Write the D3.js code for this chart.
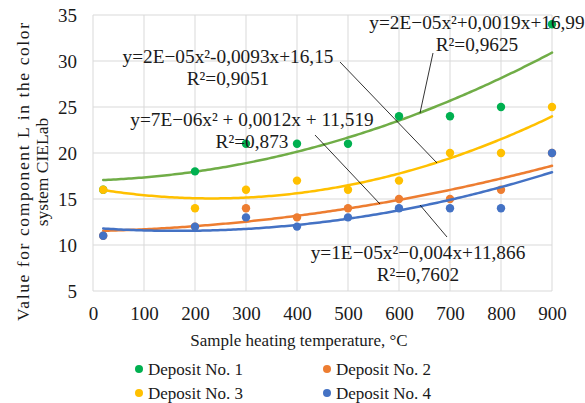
<!DOCTYPE html>
<html><head><meta charset="utf-8">
<script src="https://cdn.jsdelivr.net/npm/d3@7/dist/d3.min.js"></script>
</head>
<body style="margin:0;background:#fff"><svg id="c" width="585" height="403" style="display:block"></svg>
<script>
const temperatures = [20, 200, 300, 400, 500, 600, 700, 800, 900];
const seriesNames = ["Deposit No. 1", "Deposit No. 2", "Deposit No. 3", "Deposit No. 4"];
const deposit1 = [16, 18, 21, 21, 21, 24, 24, 25, 34];
const deposit2 = [11, 12, 14, 13, 14, 15, 15, 16, 20];
const deposit3 = [16, 14, 16, 17, 16, 17, 20, 20, 25];
const deposit4 = [11, 12, 13, 12, 13, 14, 14, 14, 20];
const xTicks = [0, 100, 200, 300, 400, 500, 600, 700, 800, 900];
const yTicks = [5, 10, 15, 20, 25, 30, 35];
const markerColors = ["#00b050", "#ed7d31", "#ffc000", "#4472c4"];
const lineColors = ["#70ad47", "#ed7d31", "#ffc000", "#4472c4"];
const eqLabels = [
  ["y=2E\u221205x\u00b2+0,0019x+16,99", "R\u00b2=0,9625"],
  ["y=2E\u221205x\u00b2-0,0093x+16,15", "R\u00b2=0,9051"],
  ["y=7E\u221206x\u00b2 + 0,0012x  + 11,519", "R\u00b2=0,873"],
  ["y=1E\u221205x\u00b2\u22120,004x+11,866", "R\u00b2=0,7602"]
];

const FONT = "Liberation Serif";
const svg = d3.select("#c");
const x = d3.scaleLinear().domain([0, 900]).range([93, 552]);
const y = d3.scaleLinear().domain([5, 35]).range([291, 15]);
const grid = "#d9d9d9", txt = "#1a1a1a";

svg.append("g").selectAll("line").data(yTicks).join("line")
  .attr("x1", x(0)).attr("x2", x(900)).attr("y1", d => y(d)).attr("y2", d => y(d))
  .attr("stroke", grid).attr("stroke-width", 1);
svg.append("g").selectAll("line").data(xTicks).join("line")
  .attr("y1", y(5)).attr("y2", y(35)).attr("x1", d => x(d)).attr("x2", d => x(d))
  .attr("stroke", grid).attr("stroke-width", 1);

const ax = svg.append("g").attr("transform", `translate(0,${y(5)})`)
  .call(d3.axisBottom(x).tickValues(xTicks).tickSize(0).tickPadding(16));
const ay = svg.append("g").attr("transform", `translate(${x(0)},0)`)
  .call(d3.axisLeft(y).tickValues(yTicks).tickSize(0).tickPadding(16));
[ax, ay].forEach(g => {
  g.select(".domain").remove();
  g.selectAll("text").style("font-family", FONT).style("font-size", "19px").attr("fill", txt);
});

function fit(xs, ys) {
  const u = xs.map(v => v / 100);
  let S = [0,0,0,0,0], T = [0,0,0];
  u.forEach((ui, i) => {
    for (let k = 0; k < 5; k++) S[k] += Math.pow(ui, k);
    for (let k = 0; k < 3; k++) T[k] += Math.pow(ui, k) * ys[i];
  });
  const A = [[S[0],S[1],S[2],T[0]],[S[1],S[2],S[3],T[1]],[S[2],S[3],S[4],T[2]]];
  for (let i = 0; i < 3; i++) {
    for (let j = i + 1; j < 3; j++) {
      const f = A[j][i] / A[i][i];
      for (let k = i; k < 4; k++) A[j][k] -= f * A[i][k];
    }
  }
  const c = [0,0,0];
  for (let i = 2; i >= 0; i--) {
    let s = A[i][3];
    for (let k = i + 1; k < 3; k++) s -= A[i][k] * c[k];
    c[i] = s / A[i][i];
  }
  return t => c[0] + c[1] * (t / 100) + c[2] * (t / 100) * (t / 100);
}

const allSeries = [deposit1, deposit2, deposit3, deposit4];
const line = d3.line().x(d => x(d[0])).y(d => y(d[1]));
allSeries.forEach((vals, si) => {
  const f = fit(temperatures, vals);
  const pts = d3.range(20, 900.01, 5).map(t => [t, f(t)]);
  svg.append("path").datum(pts).attr("d", line).attr("fill", "none")
    .attr("stroke", lineColors[si]).attr("stroke-width", 2.5).attr("stroke-linecap", "round");
  svg.append("g").selectAll("circle").data(vals).join("circle")
    .attr("cx", (d, i) => x(temperatures[i])).attr("cy", d => y(d)).attr("r", 4.2)
    .attr("fill", markerColors[si]);
});

function addText(xp, yp, s, size, anchor) {
  return svg.append("text").attr("x", xp).attr("y", yp).attr("text-anchor", anchor || "start")
    .style("font-family", FONT).style("font-size", size + "px").attr("fill", txt).text(s);
}

const labelPos = [
  {cx: 477, y1: 29, y2: 51, lx1: 433, ly1: 53, lx2: 420, ly2: 113},
  {cx: 228, y1: 63, y2: 85, lx1: 340, ly1: 62, lx2: 437, ly2: 163},
  {cx: 252, y1: 126, y2: 148, lx1: 315, ly1: 135, lx2: 380, ly2: 204},
  {cx: 418, y1: 259, y2: 281, lx1: 447, ly1: 237, lx2: 420, ly2: 205}
];
eqLabels.forEach((lab, i) => {
  const p = labelPos[i];
  svg.append("line").attr("x1", p.lx1).attr("y1", p.ly1).attr("x2", p.lx2).attr("y2", p.ly2)
    .attr("stroke", "#000").attr("stroke-width", 0.8);
  addText(p.cx, p.y1, lab[0], 19.3, "middle");
  addText(p.cx, p.y2, lab[1], 19.3, "middle");
});

addText(299, 346, "Sample heating temperature, \u00b0C", 17, "middle");
const yt = svg.append("text").attr("transform", "translate(29,172) rotate(-90)")
  .attr("text-anchor", "middle").style("font-family", FONT).style("font-size", "17.5px").attr("fill", txt);
yt.append("tspan").attr("x", 0).attr("dy", 0)
  .attr("textLength", 298).attr("lengthAdjust", "spacing")
  .text("Value for component  L in the color");
yt.append("tspan").attr("x", 0).attr("dy", 18.5)
  .text("system CIELab");

const legPos = [[139, 369], [327, 369], [139, 393], [327, 393]];
seriesNames.forEach((n, i) => {
  const [lx, ly] = legPos[i];
  svg.append("circle").attr("cx", lx).attr("cy", ly).attr("r", 4).attr("fill", markerColors[i]);
  addText(lx + 9, ly + 6, n, 17);
});
</script></body></html>
